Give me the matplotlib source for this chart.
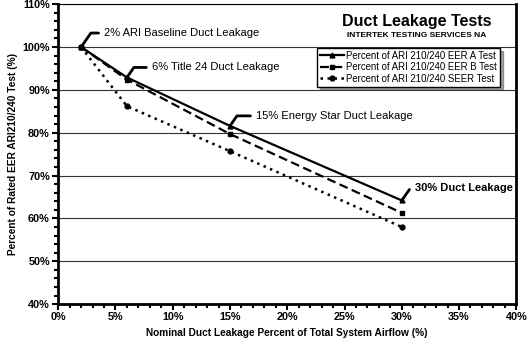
import numpy as np
import matplotlib
matplotlib.use("Agg")
import matplotlib.pyplot as plt
from matplotlib.ticker import MultipleLocator, FuncFormatter

# data (percent values)
leakage = [2, 6, 15, 30]
eer_a = [100, 92.9, 81.6, 64.2]
eer_b = [100, 92.4, 79.7, 61.3]
seer = [100, 86.2, 75.7, 58.0]

series_labels = ["Percent of ARI 210/240 EER A Test",
                 "Percent of ARI 210/240 EER B Test",
                 "Percent of ARI 210/240 SEER Test"]

callout_texts = ["2% ARI Baseline Duct Leakage",
                 "6% Title 24 Duct Leakage",
                 "15% Energy Star Duct Leakage",
                 "30% Duct Leakage"]

plt.rcParams['font.family'] = ['Liberation Sans', 'DejaVu Sans']

fig = plt.figure(figsize=(5.29, 3.48), dpi=100)
ax = fig.add_axes([0.110, 0.126, 0.866, 0.862])

# the three lines
ax.plot(leakage, eer_a, color="black", linestyle="-", linewidth=1.6,
        marker="^", markersize=3.5, label=series_labels[0])
ax.plot(leakage, eer_b, color="black", linestyle=(0, (4, 2)), linewidth=1.6,
        marker="s", markersize=3.5, label=series_labels[1])
ax.plot(leakage, seer, color="black", linestyle=(0, (1, 1.8)), linewidth=1.8,
        marker="o", markersize=3.5, label=series_labels[2])

ax.set_xlim(0, 40)
ax.set_ylim(40, 110)
ax.xaxis.set_major_locator(MultipleLocator(5))
ax.xaxis.set_minor_locator(MultipleLocator(1))
ax.yaxis.set_major_locator(MultipleLocator(10))
ax.yaxis.set_minor_locator(MultipleLocator(2))
pct = FuncFormatter(lambda v, p: "%d%%" % round(v))
ax.xaxis.set_major_formatter(pct)
ax.yaxis.set_major_formatter(pct)

ax.grid(axis="y", which="major", color="#333333", linewidth=0.8)
ax.set_axisbelow(True)

ax.tick_params(which="major", direction="out", length=4, width=1.5,
               labelsize=7.8, pad=2)
ax.tick_params(which="minor", direction="out", length=3, width=1.5)
for lab in ax.get_xticklabels() + ax.get_yticklabels():
    lab.set_fontweight("bold")

ax.spines["left"].set_linewidth(2)
ax.spines["bottom"].set_linewidth(2)
ax.spines["right"].set_linewidth(2)
ax.spines["top"].set_linewidth(0.8)

ax.set_xlabel("Nominal Duct Leakage Percent of Total System Airflow (%)",
              fontsize=7.3, fontweight="bold", labelpad=4)
ax.set_ylabel("Percent of Rated EER ARI210/240 Test (%)",
              fontsize=7.3, fontweight="bold", labelpad=3)

# callouts: offsets in pixels from the A test point
offsets = [(23, 14), (25, 10), (26, 10), (13, 12)]
for i in range(len(leakage)):
    bold = (i == 3)
    ax.annotate(callout_texts[i], xy=(leakage[i], eer_a[i]),
                xytext=offsets[i], textcoords="offset pixels",
                ha="left", va="center",
                fontsize=8,
                fontweight="bold" if bold else "normal",
                arrowprops=dict(arrowstyle="-", color="black", linewidth=2,
                                relpos=(0, 0.5), shrinkA=2, shrinkB=0,
                                connectionstyle="angle,angleA=0,angleB=55,rad=0"))

# title block
fig.text(0.787, 0.937, "Duct Leakage Tests", ha="center", va="center",
         fontsize=11.5, fontweight="bold")
fig.text(0.787, 0.899, "INTERTEK TESTING SERVICES NA", ha="center",
         va="center", fontsize=6, fontweight="bold")

leg = ax.legend(loc="upper right", bbox_to_anchor=(0.975, 0.87),
                fontsize=6.9, frameon=True, shadow=True, fancybox=False,
                handlelength=2.5, handletextpad=0.3, borderpad=0.3,
                labelspacing=0.15)
leg.get_frame().set_edgecolor("black")
leg.get_frame().set_linewidth(1)

fig.savefig("out.png", dpi=100)
